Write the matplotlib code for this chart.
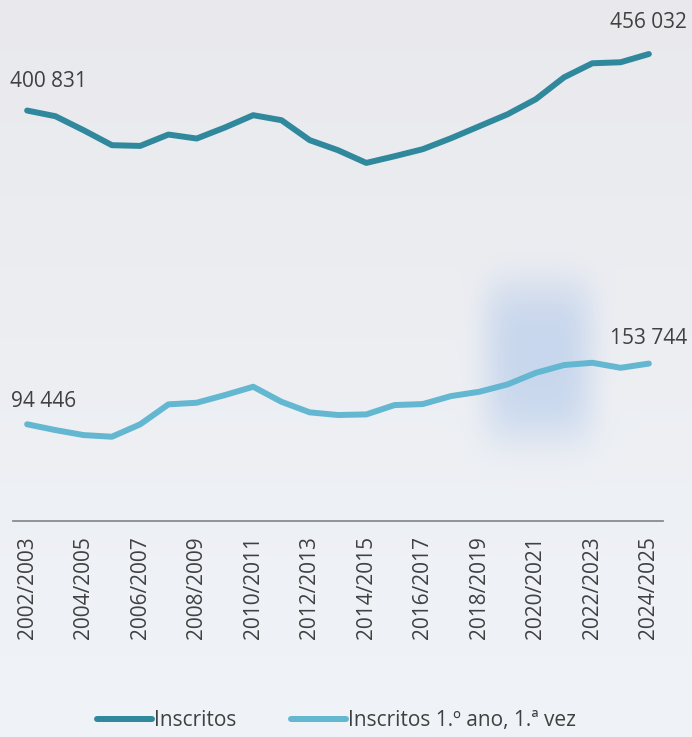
import matplotlib
matplotlib.use("Agg")
import matplotlib.pyplot as plt
import numpy as np

# school years, one point per year
years = ["2002/2003", "2003/2004", "2004/2005", "2005/2006", "2006/2007",
         "2007/2008", "2008/2009", "2009/2010", "2010/2011", "2011/2012",
         "2012/2013", "2013/2014", "2014/2015", "2015/2016", "2016/2017",
         "2017/2018", "2018/2019", "2019/2020", "2020/2021", "2021/2022",
         "2022/2023", "2023/2024", "2024/2025"]

inscritos = [400831, 395300, 381600, 367000, 366300, 377400, 373500, 384300,
             396300, 391400, 371900, 362100, 349700, 356200, 363100, 373800,
             385500, 397200, 411900, 433300, 447000, 448000, 456032]

inscritos_1ano = [94446, 88800, 83900, 82300, 94400, 113900, 115500, 123000,
                  131100, 116400, 106100, 103500, 104100, 113200, 114200,
                  122000, 126200, 133400, 144700, 152300, 154500, 149600,
                  153744]

series_names = ["Inscritos", "Inscritos 1.º ano, 1.ª vez"]
colors = ["#2F889C", "#63B7D0"]
text_color = "#404040"

plt.rcParams['font.family'] = ['Open Sans', 'DejaVu Sans']

W, H = 692, 737
fig = plt.figure(figsize=(W / 100, H / 100), dpi=100)

# soft background wash
bg = fig.add_axes([0, 0, 1, 1])
bg.set_axis_off()
yy, xx = np.mgrid[0:1:200j, 0:1:200j]
top = np.array([0.915, 0.915, 0.93])
bottom = np.array([0.94, 0.955, 0.972])
img = top[None, None, :] * (1 - yy[..., None]) + bottom[None, None, :] * yy[..., None]
blob = np.exp(-(((xx - 0.78) / 0.08) ** 4 + ((yy - 0.49) / 0.11) ** 4))
img = img - blob[..., None] * np.array([0.14, 0.09, 0.02])
bg.imshow(np.clip(img, 0, 1), extent=[0, 1, 0, 1], aspect='auto', zorder=0,
          interpolation='gaussian')
bg.set_xlim(0, 1)
bg.set_ylim(0, 1)

ax = fig.add_axes([13 / W, (H - 521) / H, 650 / W, 512 / H])
ax.patch.set_alpha(0)
x = np.arange(len(years))
ax.plot(x, inscritos, color=colors[0], lw=4.3, solid_capstyle='round',
        solid_joinstyle='round', label=series_names[0])
ax.plot(x, inscritos_1ano, color=colors[1], lw=4.3, solid_capstyle='round',
        solid_joinstyle='round', label=series_names[1])

ax.set_xlim(-0.5, len(years) - 0.5)
ax.set_ylim(0, 500000)
ax.set_yticks([])
ax.set_xticks(x[::2])
ax.set_xticklabels(years[::2], rotation=90, fontsize=15, color=text_color)
ax.tick_params(axis='x', length=0, pad=11)
for s in ["top", "right", "left"]:
    ax.spines[s].set_visible(False)
ax.spines["bottom"].set_color("#8C8C8C")
ax.spines["bottom"].set_linewidth(1.3)


def fmt(v):
    return f"{v:,}".replace(",", " ")


labels = [(inscritos, 0, (21, 29)), (inscritos, -1, (0, 32)),
          (inscritos_1ano, 0, (16, 23)), (inscritos_1ano, -1, (0, 25))]
for series, i, off in labels:
    ax.annotate(fmt(series[i]), (x[i], series[i]), xytext=off,
                textcoords='offset pixels', ha='center', va='center',
                fontsize=15, color=text_color)

fig.legend(loc='center', bbox_to_anchor=(0.486, 0.022), ncol=2,
           frameon=False, fontsize=15, handlelength=2.65, handletextpad=0.1,
           columnspacing=2.6, labelcolor=text_color)

fig.savefig("out.png", dpi=100)
